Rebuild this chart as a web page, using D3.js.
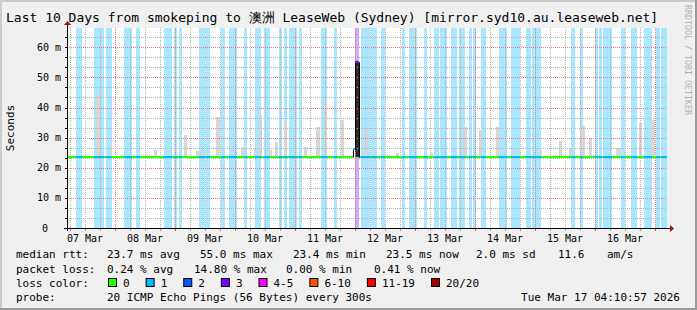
<!DOCTYPE html>
<html>
<head>
<meta charset="utf-8">
<script src="https://cdn.jsdelivr.net/npm/d3@7"></script>
<style>
body { margin: 0; background: #fff; }
svg text { font-family: "DejaVu Sans Mono", monospace; white-space: pre; }
</style>
</head>
<body>
<div id="graph"></div>
<script>
// time window shown (10 days)
const startTime = new Date(2026, 2, 7, 4, 48);
const endTime = new Date(2026, 2, 17, 4, 48);

// loss periods: [from hour, to hour, pings lost of 20]  (hours since startTime)
const lossPeriods = [
  [3.6, 6.0, 1], [10.8, 14.8, 1], [15.6, 18.0, 1], [22.8, 26.0, 1], [27.6, 29.2, 1],
  [38.8, 42.0, 1], [42.8, 44.0, 1], [44.8, 46.0, 1], [52.8, 55.2, 1], [55.6, 57.2, 1],
  [61.6, 63.2, 1], [64.8, 68.0, 1], [70.8, 72.0, 1], [75.2, 77.6, 1], [78.8, 81.2, 1],
  [84.8, 86.0, 1], [86.8, 88.0, 1], [88.8, 92.0, 1], [92.8, 94.0, 1], [101.6, 104.0, 1],
  [106.8, 108.0, 1], [115.2, 116.8, 3], [117.6, 121.2, 1], [121.6, 124.0, 1], [125.6, 127.2, 1],
  [134.0, 135.2, 1], [136.8, 140.0, 1], [142.8, 144.0, 1], [146.8, 148.8, 1], [149.2, 152.0, 1],
  [153.6, 156.0, 1], [156.8, 159.2, 1], [160.8, 162.0, 1], [162.4, 163.6, 1], [165.6, 167.6, 1],
  [172.8, 176.0, 1], [177.6, 181.2, 1], [183.6, 185.6, 1], [186.0, 189.6, 1], [201.6, 203.2, 1],
  [205.2, 206.4, 1], [211.2, 212.4, 1], [212.8, 214.0, 1], [214.4, 218.0, 1], [221.6, 223.2, 1],
  [225.6, 228.0, 1], [230.8, 234.0, 1], [235.6, 237.2, 1], [237.6, 240.0, 1]
];

// smoke peaks above the median: [from hour, to hour, top ms]
const smokeSpikes = [
  [11.6, 13.2, 44.4], [17.2, 18.0, 27.5], [34.8, 36.0, 26], [46.8, 48.0, 31], [51.6, 53.6, 25.5],
  [59.6, 61.2, 36.8], [69.6, 71.2, 27], [74.8, 76.0, 26.5], [76.8, 78.0, 37.5], [80.8, 82.0, 26],
  [83.2, 84.4, 28.5], [86.8, 88.0, 35], [94.8, 96.0, 27], [99.6, 101.2, 33.5], [102.8, 104.0, 41.8],
  [109.6, 110.8, 36], [118.8, 120.0, 33.5], [122.8, 124.0, 25], [131.6, 132.8, 25], [145.2, 146.4, 25],
  [158.4, 160.0, 33.5], [164.8, 166.0, 32.5], [171.6, 173.2, 33.5], [177.6, 178.8, 26], [188.8, 190.0, 26],
  [196.8, 198.0, 28.8], [200.8, 201.6, 26.5], [205.2, 207.2, 34], [208.8, 210.0, 30], [219.6, 221.6, 26.5],
  [228.8, 230.0, 35], [233.6, 235.2, 36]
];

// median rtt
const medianMs = 23.7;
// columns where the median differs: [from hour, to hour, ms, pings lost]
const medianSteps = [[114.4, 115.2, 26.3, 1], [115.2, 116.8, 55.0, 3]];
// dense smoke during the spike: [from hour, to hour, low ms, high ms]
const darkSmoke = [[115.2, 116.8, 23.7, 55.0]];

const yTicks = [0, 10, 20, 30, 40, 50, 60];
const lossLabels = ['0', '1', '2', '3', '4-5', '6-10', '11-19', '20/20'];
const lossColors = ['#26ff00', '#00b8ff', '#0059ff', '#7e00ff', '#ff00ff', '#ff5500', '#ff0000', '#a10000'];

const rttStats = [['23.7 ms avg', 107], ['55.0 ms max', 200], ['23.4 ms min', 293], ['23.5 ms now', 386],
  ['2.0 ms sd', 476], ['11.6', 558], ['am/s', 607]];
const lossStats = [['0.24 % avg', 107], ['14.80 % max', 194], ['0.00 % min', 286], ['0.41 % now', 374]];
const probeText = '20 ICMP Echo Pings (56 Bytes) every 300s';
const stampText = 'Tue Mar 17 04:10:57 2026';

const width = 697, height = 310;
const plot = {left: 67, right: 667, top: 28, bottom: 228};

function hour(h) { return new Date(+startTime + h * 3600e3); }
function lossIndex(n) {
  if (n <= 3) return n;
  if (n <= 5) return 4;
  if (n <= 10) return 5;
  if (n <= 19) return 6;
  return 7;
}
function lightColor(n) { return d3.interpolateRgb('#ffffff', lossColors[lossIndex(n)])(0.34); }

const svg = d3.select('#graph').append('svg')
  .attr('width', width).attr('height', height);

// background + frame
svg.append('rect').attr('width', width).attr('height', height).attr('fill', '#f0f0f0');
svg.append('rect').attr('x', 0).attr('y', 0).attr('width', width).attr('height', 2).attr('fill', '#cbcbcb');
svg.append('rect').attr('x', 0).attr('y', 0).attr('width', 2).attr('height', height).attr('fill', '#cbcbcb');
svg.append('rect').attr('x', 0).attr('y', height - 2).attr('width', width).attr('height', 2).attr('fill', '#999');
svg.append('rect').attr('x', width - 2).attr('y', 0).attr('width', 2).attr('height', height).attr('fill', '#999');

const x = d3.scaleTime().domain([startTime, endTime]).range([plot.left, plot.right]);
const y = d3.scaleLinear().domain([0, 66.4]).range([plot.bottom, plot.top]);
const px = h => Math.round(x(hour(h)));

svg.append('rect')
  .attr('x', plot.left).attr('y', plot.top)
  .attr('width', plot.right - plot.left).attr('height', plot.bottom - plot.top)
  .attr('fill', '#fff');

// loss background bands
svg.append('g').selectAll('rect')
  .data(lossPeriods)
  .join('rect')
  .attr('x', d => px(d[0]))
  .attr('width', d => px(d[1]) - px(d[0]))
  .attr('y', plot.top)
  .attr('height', plot.bottom - plot.top)
  .attr('fill', d => lightColor(d[2]));

// smoke
svg.append('g').selectAll('rect')
  .data(smokeSpikes)
  .join('rect')
  .attr('x', d => px(d[0]))
  .attr('width', d => px(d[1]) - px(d[0]))
  .attr('y', d => Math.round(y(d[2])))
  .attr('height', d => Math.round(y(medianMs)) - Math.round(y(d[2])))
  .attr('fill', '#d6d6d6');

svg.append('g').selectAll('rect')
  .data(darkSmoke)
  .join('rect')
  .attr('x', d => px(d[0]))
  .attr('width', d => px(d[1]) - px(d[0]))
  .attr('y', d => Math.round(y(d[3])))
  .attr('height', d => Math.round(y(d[2])) - Math.round(y(d[3])))
  .attr('fill', '#2b2b2b');

// grid (dotted)
const grid = svg.append('g').attr('fill', 'none').attr('stroke-dasharray', '1 1');
const minorY = d3.range(0, 66.4, 10 / 3).filter(v => Math.round(v * 3) % 30 !== 0);
const sixHours = x.ticks(d3.timeHour.every(6)).filter(d => d.getHours() !== 0);
const days = x.ticks(d3.timeDay.every(1));

grid.append('g').attr('stroke', '#b4b4b4').selectAll('line').data(minorY).join('line')
  .attr('x1', plot.left).attr('x2', plot.right)
  .attr('y1', d => Math.round(y(d)) + 0.5).attr('y2', d => Math.round(y(d)) + 0.5);
grid.append('g').attr('stroke', '#b4b4b4').selectAll('line').data(sixHours).join('line')
  .attr('y1', plot.top).attr('y2', plot.bottom)
  .attr('x1', d => Math.round(x(d)) + 0.5).attr('x2', d => Math.round(x(d)) + 0.5);
grid.append('g').attr('stroke', '#e27c7c').selectAll('line').data(yTicks.slice(1)).join('line')
  .attr('x1', plot.left).attr('x2', plot.right)
  .attr('y1', d => Math.round(y(d)) + 0.5).attr('y2', d => Math.round(y(d)) + 0.5);
grid.append('g').attr('stroke', '#e27c7c').selectAll('line').data(days).join('line')
  .attr('y1', plot.top).attr('y2', plot.bottom)
  .attr('x1', d => Math.round(x(d)) + 0.5).attr('x2', d => Math.round(x(d)) + 0.5);

// median line, coloured by loss
const ym = Math.round(y(medianMs));
const greenParts = [];
let from = 0;
medianSteps.forEach(s => { if (s[0] > from) greenParts.push([from, s[0]]); from = s[1]; });
greenParts.push([from, 240]);
const lastStep = medianSteps[medianSteps.length - 1][1];
const medianSegs = greenParts.map(d => [d[0], d[1], 0])
  .concat(lossPeriods.filter(d => d[1] <= medianSteps[0][0] || d[0] >= lastStep));
svg.append('g').selectAll('rect').data(medianSegs).join('rect')
  .attr('x', d => px(d[0])).attr('width', d => px(d[1]) - px(d[0]))
  .attr('y', ym - 1).attr('height', 2)
  .attr('fill', d => lossColors[lossIndex(d[2])]);

// step outline where the median jumps
const pts = [[medianSteps[0][0], medianMs]];
medianSteps.forEach(s => { pts.push([s[0], s[2]]); pts.push([s[1], s[2]]); });
pts.push([lastStep, medianMs]);
svg.append('path')
  .attr('d', d3.line().x(d => px(d[0]) + 0.5).y(d => Math.round(y(d[1])) + 0.5)(pts))
  .attr('fill', 'none').attr('stroke', '#000');
svg.append('g').selectAll('rect').data(medianSteps).join('rect')
  .attr('x', d => px(d[0])).attr('width', d => px(d[1]) - px(d[0]))
  .attr('y', d => Math.round(y(d[2])) - 1).attr('height', 2)
  .attr('fill', d => lossColors[lossIndex(d[3])]);

// axes
const axisG = svg.append('g');
axisG.append('line').attr('x1', plot.left - 3).attr('x2', plot.right + 3)
  .attr('y1', plot.bottom + 0.5).attr('y2', plot.bottom + 0.5).attr('stroke', '#000');
axisG.append('line').attr('x1', plot.left + 0.5).attr('x2', plot.left + 0.5)
  .attr('y1', plot.bottom + 3).attr('y2', plot.top - 3).attr('stroke', '#000');
axisG.append('path').attr('d', `M${plot.right + 3},${plot.bottom - 3} L${plot.right + 7},${plot.bottom + 0.5} L${plot.right + 3},${plot.bottom + 4} Z`)
  .attr('fill', '#a01010');
axisG.append('path').attr('d', `M${plot.left - 3},${plot.top - 3} L${plot.left + 0.5},${plot.top - 7} L${plot.left + 4},${plot.top - 3} Z`)
  .attr('fill', '#a01010');

// small ticks
axisG.append('g').attr('stroke', '#000').selectAll('line').data(minorY.concat(yTicks.slice(1))).join('line')
  .attr('x1', plot.left - 2).attr('x2', plot.left)
  .attr('y1', d => Math.round(y(d)) + 0.5).attr('y2', d => Math.round(y(d)) + 0.5);
axisG.append('g').attr('stroke', '#999').selectAll('line').data(sixHours).join('line')
  .attr('x1', d => Math.round(x(d)) + 0.5).attr('x2', d => Math.round(x(d)) + 0.5)
  .attr('y1', plot.bottom + 1).attr('y2', plot.bottom + 3);
axisG.append('g').attr('stroke', '#e05050').selectAll('line').data(days).join('line')
  .attr('x1', d => Math.round(x(d)) + 0.5).attr('x2', d => Math.round(x(d)) + 0.5)
  .attr('y1', plot.bottom + 1).attr('y2', plot.bottom + 3);

// y labels
svg.append('g').selectAll('text').data(yTicks).join('text')
  .attr('x', d => d === 0 ? 48 : 61)
  .attr('y', d => y(d) + 3.5)
  .attr('text-anchor', 'end')
  .attr('font-size', '10px')
  .text(d => d === 0 ? '0' : d + ' m');

// x labels at noon
const noons = days.map(d => d3.timeHour.offset(d, 12)).filter(d => d < endTime);
noons.unshift(d3.timeHour.offset(d3.timeDay.floor(startTime), 12));
svg.append('g').selectAll('text').data(noons).join('text')
  .attr('x', d => x(d)).attr('y', 242)
  .attr('text-anchor', 'middle').attr('font-size', '10px')
  .text(d3.timeFormat('%d %b'));

svg.append('text')
  .attr('transform', 'translate(14,128) rotate(-90)')
  .attr('text-anchor', 'middle').attr('font-size', '11px')
  .text('Seconds');

// title + watermark
svg.append('text').attr('x', 6).attr('y', 22).attr('font-size', '13px')
  .text('Last 10 Days from smokeping to 澳洲 LeaseWeb (Sydney) [mirror.syd10.au.leaseweb.net]');
svg.append('text').attr('transform', 'translate(685,5) rotate(90)')
  .attr('font-size', '8.3px').attr('fill', '#b0b0b0')
  .text('RRDTOOL / TOBI OETIKER');

// legend
const leg = svg.append('g').attr('font-size', '11px');
const rows = [258, 272.5, 287, 301];
leg.append('text').attr('x', 16).attr('y', rows[0]).text('median rtt:');
leg.append('g').selectAll('text').data(rttStats).join('text')
  .attr('x', d => d[1]).attr('y', rows[0]).text(d => d[0]);
leg.append('text').attr('x', 16).attr('y', rows[1]).text('packet loss:');
leg.append('g').selectAll('text').data(lossStats).join('text')
  .attr('x', d => d[1]).attr('y', rows[1]).text(d => d[0]);
leg.append('text').attr('x', 16).attr('y', rows[2]).text('loss color:');
let bx = 108;
lossLabels.forEach((lab, i) => {
  leg.append('rect').attr('x', bx + 0.5).attr('y', rows[2] - 8.5).attr('width', 8).attr('height', 8)
    .attr('fill', lossColors[i]).attr('stroke', '#000');
  const t = leg.append('text').attr('x', bx + 15).attr('y', rows[2]).text(lab);
  bx = bx + 15 + t.node().getComputedTextLength() + 16;
});
leg.append('text').attr('x', 16).attr('y', rows[3]).text('probe:');
leg.append('text').attr('x', 107).attr('y', rows[3]).text(probeText);
leg.append('text').attr('x', 680).attr('y', rows[3]).attr('text-anchor', 'end').text(stampText);
</script>
</body>
</html>
